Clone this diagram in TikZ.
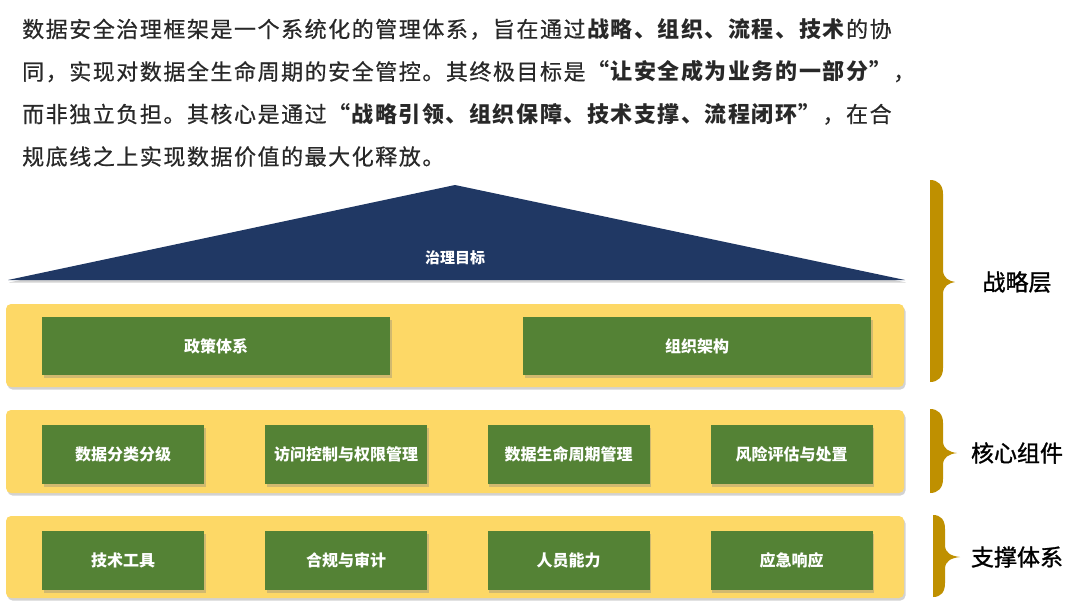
\documentclass[tikz,border=0pt]{standalone}
\usepackage{fontspec}
\setmainfont{Noto Sans CJK SC}
\newfontfamily\paraf{Noto Sans CJK SC}[LetterSpace=7, UprightFeatures={FakeBold=0.6}]
\newfontfamily\sidef{Noto Sans CJK SC}[FakeBold=1.2]
\usetikzlibrary{shadows}
\definecolor{layeryellow}{RGB}{253,216,102}
\definecolor{boxgreen}{RGB}{84,130,53}
\definecolor{navy}{RGB}{32,56,100}
\definecolor{gold}{RGB}{191,144,0}
\definecolor{paratext}{RGB}{40,40,40}
\newcommand\goldbrace[6]{% L, B, T, ytop, ybot, ytip
  \fill[gold] (#1,#4) .. controls ({#1+8},#4) and (#2,{#4+5}) .. (#2,{#4+14})
    -- (#2,{#6-12}) .. controls (#2,{#6-4}) and ({#2+6},{#6-1}) .. (#3,#6)
    .. controls ({#2+6},{#6+1}) and (#2,{#6+4}) .. (#2,{#6+12})
    -- (#2,{#5-14}) .. controls (#2,{#5-5}) and ({#1+8},#5) .. (#1,#5) -- cycle;}
\tikzset{
  paraline/.style={anchor=base west, inner sep=0pt, text=paratext, font=\paraf\fontsize{22}{26}\selectfont},
  layer/.style={fill=layeryellow, rounded corners=5pt, drop shadow={shadow xshift=1.5pt, shadow yshift=-2.5pt, opacity=0.35}},
  greenbox/.style={fill=boxgreen, text=white, font=\bfseries\fontsize{16}{19}\selectfont, inner sep=0pt,
    drop shadow={shadow xshift=1.5pt, shadow yshift=-2.5pt, opacity=0.35}},
  sidelabel/.style={text=black, font=\sidef\fontsize{23}{26}\selectfont, inner sep=0pt},
}
\begin{document}
\begin{tikzpicture}[x=1pt,y=-1pt]
\useasboundingbox (0,0) rectangle (1080,608);
\fill[white] (0,0) rectangle (1080,608);
% paragraph
\node[paraline] (p1) at (22,37.4) {数据安全治理框架是一个系统化的管理体系，旨在通过\textbf{战略、组织、流程、技术}的协};
\node[paraline] (p2) at (22,79.9) {同，实现对数据全生命周期的安全管控。其终极目标是\textbf{“让安全成为业务的一部分”}，};
\node[paraline] (p3) at (22,122.4) {而非独立负担。其核心是通过\textbf{“战略引领、组织保障、技术支撑、流程闭环”}，在合};
\node[paraline] (p4) at (22,164.9) {规底线之上实现数据价值的最大化释放。};
% triangle
\fill[navy, drop shadow={shadow xshift=1pt, shadow yshift=-2.5pt, opacity=0.35}] (8,280) -- (455,185) -- (905,280) -- cycle;
\node[text=white, font=\bfseries\fontsize{15}{18}\selectfont, inner sep=0pt] (goal) at (455,258) {治理目标};
% layers
\path[layer] (6,304) rectangle (904,387);
\path[layer] (6,410) rectangle (904,493);
\path[layer] (6,516) rectangle (904,598);
% layer 1
\node[greenbox, minimum width=348pt, minimum height=58pt] (policy) at (216,346) {政策体系};
\node[greenbox, minimum width=348pt, minimum height=58pt] (org) at (697,346) {组织架构};
% layer 2
\node[greenbox, minimum width=162pt, minimum height=59pt] (c1) at (123,454.5) {数据分类分级};
\node[greenbox, minimum width=162pt, minimum height=59pt] (c2) at (346,454.5) {访问控制与权限管理};
\node[greenbox, minimum width=162pt, minimum height=59pt] (c3) at (568.5,454.5) {数据生命周期管理};
\node[greenbox, minimum width=162pt, minimum height=59pt] (c4) at (791.5,454.5) {风险评估与处置};
% layer 3
\node[greenbox, minimum width=162pt, minimum height=59pt] (s1) at (123,560.5) {技术工具};
\node[greenbox, minimum width=162pt, minimum height=59pt] (s2) at (346,560.5) {合规与审计};
\node[greenbox, minimum width=162pt, minimum height=59pt] (s3) at (568.5,560.5) {人员能力};
\node[greenbox, minimum width=162pt, minimum height=59pt] (s4) at (791.5,560.5) {应急响应};
% braces
\goldbrace{930}{943}{955}{180}{382}{282}
\goldbrace{930}{943}{957}{409}{493}{453}
\goldbrace{933}{945}{960}{515}{597}{557}
\node[sidelabel] (lbl1) at (1017,282) {战略层};
\node[sidelabel] (lbl2) at (1017,453) {核心组件};
\node[sidelabel] (lbl3) at (1017,557) {支撑体系};
\end{tikzpicture}
\end{document}
